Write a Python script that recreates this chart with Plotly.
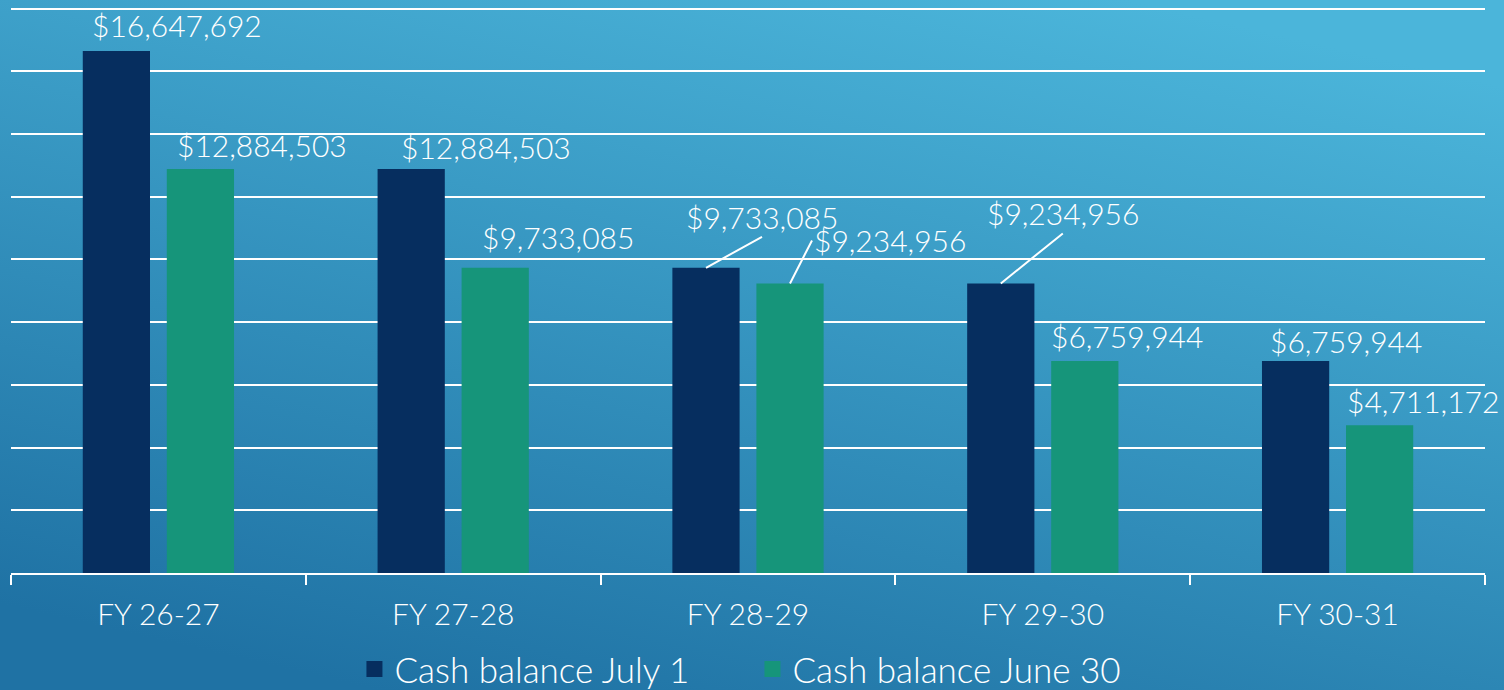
import base64
import plotly.graph_objects as go

# data
years = ["FY 26-27", "FY 27-28", "FY 28-29", "FY 29-30", "FY 30-31"]
july_1 = [16647692, 12884503, 9733085, 9234956, 6759944]
june_30 = [12884503, 9733085, 9234956, 6759944, 4711172]
series_names = ["Cash balance July 1", "Cash balance June 30"]

# label placement (pixels right / up from the top-centre of each bar)
july_label_offsets = [(61, 26), (75, 22), (56, 31), (62, 50), (50, 20)]
june_label_offsets = [(62, 24), (63, 31), (22, 43), (42, 25), (43, 24)]
july_leader = [False, False, True, True, False]
june_leader = [False, False, True, False, False]

DARK = "#062e5f"
GREEN = "#16957a"
FONT = "Lato"
BAR_SHIFT = 42  # half of one bar slot, px

# gradient background as an inline svg
svg = (
    '<svg xmlns="http://www.w3.org/2000/svg" width="1504" height="690" preserveAspectRatio="none">'
    '<defs><linearGradient id="g" x1="0.75" y1="0" x2="0.25" y2="1">'
    '<stop offset="0" stop-color="#4bb5da"/>'
    '<stop offset="1" stop-color="#1f72a4"/>'
    '</linearGradient></defs>'
    '<rect width="1504" height="690" fill="url(#g)"/></svg>'
)
bg_src = "data:image/svg+xml;base64," + base64.b64encode(svg.encode()).decode()

fig = go.Figure()
fig.add_trace(go.Bar(x=years, y=july_1, name=series_names[0], showlegend=False,
                     marker=dict(color=DARK, line=dict(width=0))))
fig.add_trace(go.Bar(x=years, y=june_30, name=series_names[1], showlegend=False,
                     marker=dict(color=GREEN, line=dict(width=0))))
# legend entries with bigger square swatches
for name, color in zip(series_names, [DARK, GREEN]):
    fig.add_trace(go.Scatter(x=[None], y=[None], mode="markers", name=name,
                             marker=dict(symbol="square", size=16, color=color)))

annotations = []
for values, offsets, leaders, shift in [
    (july_1, july_label_offsets, july_leader, -BAR_SHIFT),
    (june_30, june_label_offsets, june_leader, BAR_SHIFT),
]:
    for cat, v, (dx, dy), lead in zip(years, values, offsets, leaders):
        text = f"${v:,.0f}"
        if lead:
            side = dx < 30
            annotations.append(dict(
                x=cat, y=v, xshift=shift, text=text,
                showarrow=True, arrowhead=0, arrowwidth=2, arrowcolor="white",
                standoff=0, ax=dx, ay=-dy,
                xanchor="left" if side else "center",
                yanchor="middle" if side else "bottom",
                font=dict(family=FONT, size=30, color="white", weight=300),
            ))
        else:
            annotations.append(dict(
                x=cat, y=v, xshift=shift + dx, yshift=dy, text=text,
                showarrow=False, xanchor="center", yanchor="middle",
                font=dict(family=FONT, size=30, color="white", weight=300),
            ))

fig.update_layout(
    width=1504, height=690,
    margin=dict(l=11, r=19, t=7, b=117, autoexpand=False),
    paper_bgcolor="#2f8fc0",
    plot_bgcolor="rgba(0,0,0,0)",
    barmode="group", bargap=0.43, bargroupgap=0.2,
    font=dict(family=FONT, color="white"),
    legend=dict(orientation="h", x=0.233, xanchor="left", y=-0.118, yanchor="top",
                font=dict(family=FONT, size=35, color="white", weight=300),
                bgcolor="rgba(0,0,0,0)", entrywidth=353, entrywidthmode="pixels",
                itemsizing="trace"),
    annotations=annotations,
    images=[dict(source=bg_src, xref="paper", yref="paper", x=-11 / 1474, y=1 + 7 / 566,
                 sizex=1504 / 1474, sizey=690 / 566, xanchor="left", yanchor="top",
                 sizing="stretch", layer="below")],
)

fig.update_xaxes(
    type="category", range=[-0.5, 4.5], automargin=False,
    showline=True, linecolor="white", linewidth=2,
    ticks="outside", tickson="boundaries", ticklen=10, tickwidth=2, tickcolor="white",
    ticklabelstandoff=14,
    tickfont=dict(family=FONT, size=30, color="white", weight=300),
    showgrid=False,
)
fig.update_yaxes(
    range=[0, 18050000], dtick=2000000, automargin=False,
    showgrid=True, gridcolor="white", gridwidth=2,
    showticklabels=False, zeroline=False,
)

fig.write_html("out.html", config={"displayModeBar": False},
               post_script="document.body.style.margin='0';")
